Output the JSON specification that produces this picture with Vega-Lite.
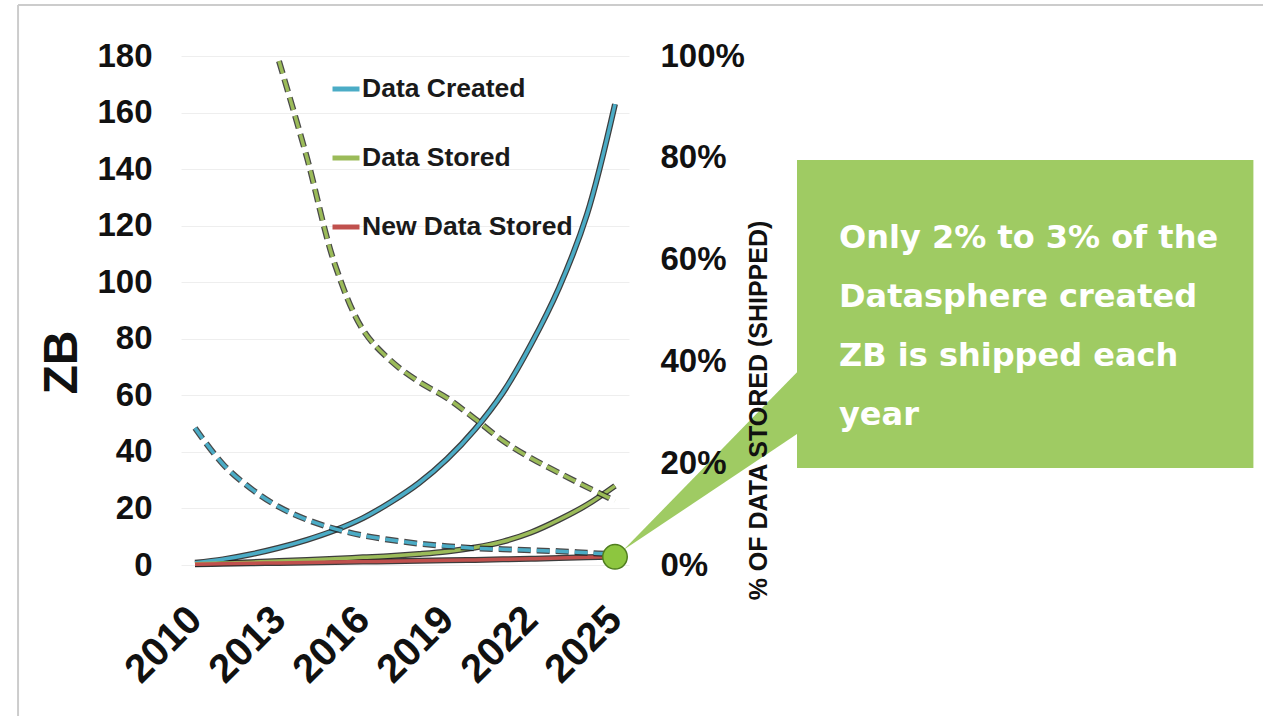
{
  "$schema": "https://vega.github.io/schema/vega-lite/v6.json",
  "width": 448,
  "height": 509,
  "autosize": {"type": "none"},
  "padding": {"left": 181, "top": 56, "right": 634, "bottom": 151},
  "background": "white",
  "config": {"view": {"stroke": null}, "font": "Liberation Sans"},
  "datasets": {
    "zb": [
      {"year": 2010, "series": "Data Created", "zb": 0.8},
      {"year": 2011, "series": "Data Created", "zb": 2.0},
      {"year": 2012, "series": "Data Created", "zb": 3.8},
      {"year": 2013, "series": "Data Created", "zb": 6.1},
      {"year": 2014, "series": "Data Created", "zb": 8.9},
      {"year": 2015, "series": "Data Created", "zb": 12.3},
      {"year": 2016, "series": "Data Created", "zb": 16.6},
      {"year": 2017, "series": "Data Created", "zb": 22.3},
      {"year": 2018, "series": "Data Created", "zb": 29.0},
      {"year": 2019, "series": "Data Created", "zb": 37.5},
      {"year": 2020, "series": "Data Created", "zb": 48.0},
      {"year": 2021, "series": "Data Created", "zb": 61.0},
      {"year": 2022, "series": "Data Created", "zb": 78.0},
      {"year": 2023, "series": "Data Created", "zb": 98.0},
      {"year": 2024, "series": "Data Created", "zb": 124.0},
      {"year": 2025, "series": "Data Created", "zb": 163.0},
      {"year": 2010, "series": "Data Stored", "zb": 0.4},
      {"year": 2011, "series": "Data Stored", "zb": 0.7},
      {"year": 2012, "series": "Data Stored", "zb": 1.0},
      {"year": 2013, "series": "Data Stored", "zb": 1.4},
      {"year": 2014, "series": "Data Stored", "zb": 1.8},
      {"year": 2015, "series": "Data Stored", "zb": 2.2},
      {"year": 2016, "series": "Data Stored", "zb": 2.7},
      {"year": 2017, "series": "Data Stored", "zb": 3.2},
      {"year": 2018, "series": "Data Stored", "zb": 3.9},
      {"year": 2019, "series": "Data Stored", "zb": 4.8},
      {"year": 2020, "series": "Data Stored", "zb": 6.2},
      {"year": 2021, "series": "Data Stored", "zb": 8.3},
      {"year": 2022, "series": "Data Stored", "zb": 11.5},
      {"year": 2023, "series": "Data Stored", "zb": 16.0},
      {"year": 2024, "series": "Data Stored", "zb": 21.3},
      {"year": 2025, "series": "Data Stored", "zb": 28.0},
      {"year": 2010, "series": "New Data Stored", "zb": 0.3},
      {"year": 2011, "series": "New Data Stored", "zb": 0.45},
      {"year": 2012, "series": "New Data Stored", "zb": 0.6},
      {"year": 2013, "series": "New Data Stored", "zb": 0.75},
      {"year": 2014, "series": "New Data Stored", "zb": 0.9},
      {"year": 2015, "series": "New Data Stored", "zb": 1.05},
      {"year": 2016, "series": "New Data Stored", "zb": 1.2},
      {"year": 2017, "series": "New Data Stored", "zb": 1.35},
      {"year": 2018, "series": "New Data Stored", "zb": 1.5},
      {"year": 2019, "series": "New Data Stored", "zb": 1.65},
      {"year": 2020, "series": "New Data Stored", "zb": 1.8},
      {"year": 2021, "series": "New Data Stored", "zb": 2.0},
      {"year": 2022, "series": "New Data Stored", "zb": 2.2},
      {"year": 2023, "series": "New Data Stored", "zb": 2.45},
      {"year": 2024, "series": "New Data Stored", "zb": 2.7},
      {"year": 2025, "series": "New Data Stored", "zb": 3.0}
    ],
    "pct": [
      {"year": 2013, "series": "% Stored", "pct": 0.99},
      {"year": 2014, "series": "% Stored", "pct": 0.80},
      {"year": 2015, "series": "% Stored", "pct": 0.59},
      {"year": 2016, "series": "% Stored", "pct": 0.462},
      {"year": 2017, "series": "% Stored", "pct": 0.401},
      {"year": 2018, "series": "% Stored", "pct": 0.36},
      {"year": 2019, "series": "% Stored", "pct": 0.328},
      {"year": 2020, "series": "% Stored", "pct": 0.287},
      {"year": 2021, "series": "% Stored", "pct": 0.244},
      {"year": 2022, "series": "% Stored", "pct": 0.21},
      {"year": 2023, "series": "% Stored", "pct": 0.181},
      {"year": 2024, "series": "% Stored", "pct": 0.153},
      {"year": 2025, "series": "% Stored", "pct": 0.126},
      {"year": 2010, "series": "% Shipped", "pct": 0.269},
      {"year": 2011, "series": "% Shipped", "pct": 0.198},
      {"year": 2012, "series": "% Shipped", "pct": 0.150},
      {"year": 2013, "series": "% Shipped", "pct": 0.114},
      {"year": 2014, "series": "% Shipped", "pct": 0.089},
      {"year": 2015, "series": "% Shipped", "pct": 0.071},
      {"year": 2016, "series": "% Shipped", "pct": 0.058},
      {"year": 2017, "series": "% Shipped", "pct": 0.049},
      {"year": 2018, "series": "% Shipped", "pct": 0.042},
      {"year": 2019, "series": "% Shipped", "pct": 0.037},
      {"year": 2020, "series": "% Shipped", "pct": 0.033},
      {"year": 2021, "series": "% Shipped", "pct": 0.031},
      {"year": 2022, "series": "% Shipped", "pct": 0.029},
      {"year": 2023, "series": "% Shipped", "pct": 0.027},
      {"year": 2024, "series": "% Shipped", "pct": 0.024},
      {"year": 2025, "series": "% Shipped", "pct": 0.021}
    ]
  },
  "layer": [
    {
      "layer": [
        {
          "data": {"name": "zb"},
          "mark": {"type": "line", "color": "#1b1b1b", "strokeWidth": 6, "opacity": 0.85, "interpolate": "catmull-rom"},
          "encoding": {
            "x": {
              "field": "year", "type": "quantitative",
              "scale": {"domain": [2009.5, 2025.5], "nice": false, "zero": false},
              "axis": {
                "values": [2010, 2013, 2016, 2019, 2022, 2025], "format": "d",
                "labelAngle": -45, "labelAlign": "right", "labelBaseline": "middle",
                "labelFontSize": 40, "labelFontWeight": "bold", "labelColor": "#111111",
                "labelFont": "Liberation Sans", "labelPadding": 48, "labelOverlap": false,
                "labelBound": false, "labelFlush": false,
                "domain": false, "ticks": false, "grid": false, "title": null
              }
            },
            "y": {
              "field": "zb", "type": "quantitative",
              "scale": {"domain": [0, 180], "nice": false},
              "axis": {
                "values": [0, 20, 40, 60, 80, 100, 120, 140, 160, 180],
                "labelFontSize": 33, "labelFontWeight": "bold", "labelColor": "#111111",
                "labelFont": "Liberation Sans", "labelPadding": 29, "labelOverlap": false,
                "domain": false, "ticks": false, "grid": true, "gridColor": "#eeeeee", "gridWidth": 1,
                "title": "ZB", "titleFontSize": 48, "titleFontWeight": "bold", "titleColor": "#111111",
                "titleFont": "Liberation Sans",
                "titleX": -119, "titleY": 306, "titleAngle": 270, "titleAlign": "center", "titleBaseline": "middle"
              }
            },
            "detail": {"field": "series"}
          }
        },
        {
          "data": {"name": "zb"},
          "mark": {"type": "line", "strokeWidth": 3.5, "interpolate": "catmull-rom"},
          "encoding": {
            "x": {"field": "year", "type": "quantitative"},
            "y": {"field": "zb", "type": "quantitative"},
            "color": {
              "field": "series", "type": "nominal",
              "scale": {"domain": ["Data Created", "Data Stored", "New Data Stored"], "range": ["#4BACC6", "#9BBB59", "#C0504D"]},
              "legend": {
                "orient": "none", "legendX": 149, "legendY": 17, "title": null, "padding": 0,
                "symbolType": "stroke", "symbolSize": 729, "symbolStrokeWidth": 5,
                "labelFontSize": 26.5, "labelFont": "Liberation Sans", "labelFontWeight": "bold",
                "labelColor": "#1a1a1a", "rowPadding": 39, "labelOffset": 0, "labelLimit": 400
              }
            }
          }
        },
        {
          "data": {"values": [
            {"year": 2025.3, "zb": 5.3, "zb2": 5.3},
            {"year": 2031.5, "zb": 68.2, "zb2": 46.3}
          ]},
          "mark": {"type": "area", "color": "#9FCB63", "opacity": 1},
          "encoding": {
            "x": {"field": "year", "type": "quantitative"},
            "y": {"field": "zb", "type": "quantitative"},
            "y2": {"field": "zb2"}
          }
        },
        {
          "data": {"values": [{}]},
          "mark": {"type": "rect", "color": "#9FCB63"},
          "encoding": {
            "x": {"datum": 2031.5, "type": "quantitative"},
            "x2": {"datum": 2047.8},
            "y": {"datum": 143.2, "type": "quantitative"},
            "y2": {"datum": 34.3}
          }
        },
        {
          "data": {"values": [{}]},
          "mark": {
            "type": "text", "align": "left", "baseline": "alphabetic",
            "font": "DejaVu Sans", "fontWeight": "bold", "fontSize": 32, "color": "#ffffff",
            "lineHeight": 59,
            "text": ["Only 2% to 3% of the", "Datasphere created", "ZB is shipped each", "year"]
          },
          "encoding": {
            "x": {"datum": 2033.0, "type": "quantitative"},
            "y": {"datum": 112.1, "type": "quantitative"}
          }
        },
        {
          "data": {"values": [{}]},
          "mark": {"type": "rule", "color": "#cccccc", "strokeWidth": 2},
          "encoding": {
            "x": {"datum": 2003.68, "type": "quantitative"},
            "y": {"datum": 198.0, "type": "quantitative"},
            "y2": {"datum": -60}
          }
        },
        {
          "data": {"values": [{}]},
          "mark": {"type": "rule", "color": "#cccccc", "strokeWidth": 2},
          "encoding": {
            "x": {"datum": 2003.68, "type": "quantitative"},
            "x2": {"datum": 2050},
            "y": {"datum": 198.0, "type": "quantitative"}
          }
        }
      ]
    },
    {
      "layer": [
        {
          "data": {"name": "pct"},
          "mark": {"type": "line", "color": "#1b1b1b", "strokeWidth": 6, "opacity": 0.8, "strokeDash": [13, 6], "interpolate": "catmull-rom"},
          "encoding": {
            "x": {"field": "year", "type": "quantitative"},
            "y": {
              "field": "pct", "type": "quantitative",
              "scale": {"domain": [0, 1], "nice": false},
              "axis": {
                "orient": "right", "values": [0, 0.2, 0.4, 0.6, 0.8, 1], "format": ".0%",
                "labelFontSize": 33, "labelFontWeight": "bold", "labelColor": "#111111",
                "labelFont": "Liberation Sans", "labelPadding": 31, "labelOverlap": false,
                "domain": false, "ticks": false, "grid": false, "zindex": 1,
                "title": "% OF DATA STORED (SHIPPED)", "titleFontSize": 25, "titleFontWeight": "bold",
                "titleColor": "#111111", "titleFont": "Liberation Sans",
                "titleX": 129, "titleY": 354, "titleAngle": 270, "titleAlign": "center", "titleBaseline": "middle"
              }
            },
            "detail": {"field": "series"}
          }
        },
        {
          "data": {"name": "pct"},
          "mark": {"type": "line", "strokeWidth": 3.5, "strokeDash": [13, 6], "interpolate": "catmull-rom"},
          "encoding": {
            "x": {"field": "year", "type": "quantitative"},
            "y": {"field": "pct", "type": "quantitative"},
            "color": {
              "field": "series", "type": "nominal",
              "scale": {"domain": ["% Stored", "% Shipped"], "range": ["#9BBB59", "#4BACC6"]},
              "legend": null
            }
          }
        },
        {
          "data": {"values": [{}]},
          "mark": {"type": "point", "shape": "circle", "filled": true, "size": 600, "fill": "#8DC63F", "stroke": "#4f7d1f", "strokeWidth": 1.5, "opacity": 1},
          "encoding": {
            "x": {"datum": 2025, "type": "quantitative"},
            "y": {"datum": 0.016, "type": "quantitative"}
          }
        }
      ]
    }
  ],
  "resolve": {"scale": {"y": "independent", "color": "independent"}}
}
